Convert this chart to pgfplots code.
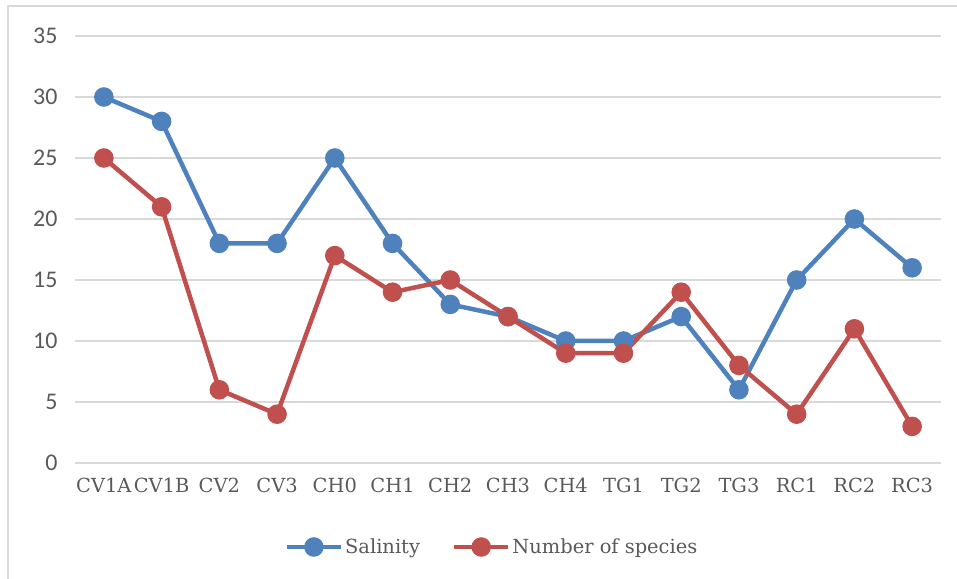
\documentclass[border=0pt]{standalone}
\usepackage{fontspec}
\setmainfont{DejaVu Serif}
\newfontfamily\tickfont{Carlito}
\usepackage{pgfplots}
\pgfplotsset{compat=1.18}
\definecolor{salblue}{HTML}{4F81BD}
\definecolor{spred}{HTML}{C0504D}
\definecolor{gridgray}{HTML}{D9D9D9}
\definecolor{txtgray}{HTML}{595959}

\begin{document}
\begin{tikzpicture}
\path[use as bounding box] (0,0) rectangle (957bp,579bp);
% chart frame (top and left edges)
\draw[gridgray, line width=2bp] (8bp,0bp) -- (8bp,573bp) -- (957bp,573bp);
\begin{axis}[
  at={(75bp,116bp)}, anchor=south west,
  scale only axis, width=866bp, height=427bp,
  xmin=-0.5, xmax=14.5, ymin=0, ymax=35,
  xtick={0,...,14},
  xticklabels={CV1A,CV1B,CV2,CV3,CH0,CH1,CH2,CH3,CH4,TG1,TG2,TG3,RC1,RC2,RC3},
  ytick={0,5,...,35},
  ymajorgrids, grid style={gridgray, line width=1.2bp},
  axis line style={draw=none},
  major tick length=0pt,
  tick label style={text=txtgray},
  xticklabel style={font=\fontsize{19.5}{20}\selectfont, yshift=-12bp},
  yticklabel style={font=\tickfont\fontsize{24}{24}\selectfont, xshift=-14bp},
  /pgf/number format/assume math mode=true,
  clip=false,
  legend columns=2,
  legend style={draw=none, fill=none, text=txtgray,
    font=\fontsize{19.5}{20}\selectfont,
    at={(axis description cs:0.5,0)}, anchor=center,
    yshift=-84bp, xshift=-16bp,
    /tikz/every even column/.append style={column sep=30bp}},
  legend image code/.code={
    \draw[mark repeat=2, mark phase=2, #1]
      plot coordinates {(0bp,0bp) (27bp,0bp) (54bp,0bp)};},
  every axis plot/.append style={line width=4.5bp, mark=*, mark size=7.5bp,
    mark options={solid}},
]
\addplot[salblue, mark options={fill=salblue, draw=salblue}] coordinates {
  (0,30) (1,28) (2,18) (3,18) (4,25) (5,18) (6,13) (7,12)
  (8,10) (9,10) (10,12) (11,6) (12,15) (13,20) (14,16)};
\addlegendentry{Salinity}
\addplot[spred, mark options={fill=spred, draw=spred}] coordinates {
  (0,25) (1,21) (2,6) (3,4) (4,17) (5,14) (6,15) (7,12)
  (8,9) (9,9) (10,14) (11,8) (12,4) (13,11) (14,3)};
\addlegendentry{Number of species}
\end{axis}
\end{tikzpicture}
\end{document}
